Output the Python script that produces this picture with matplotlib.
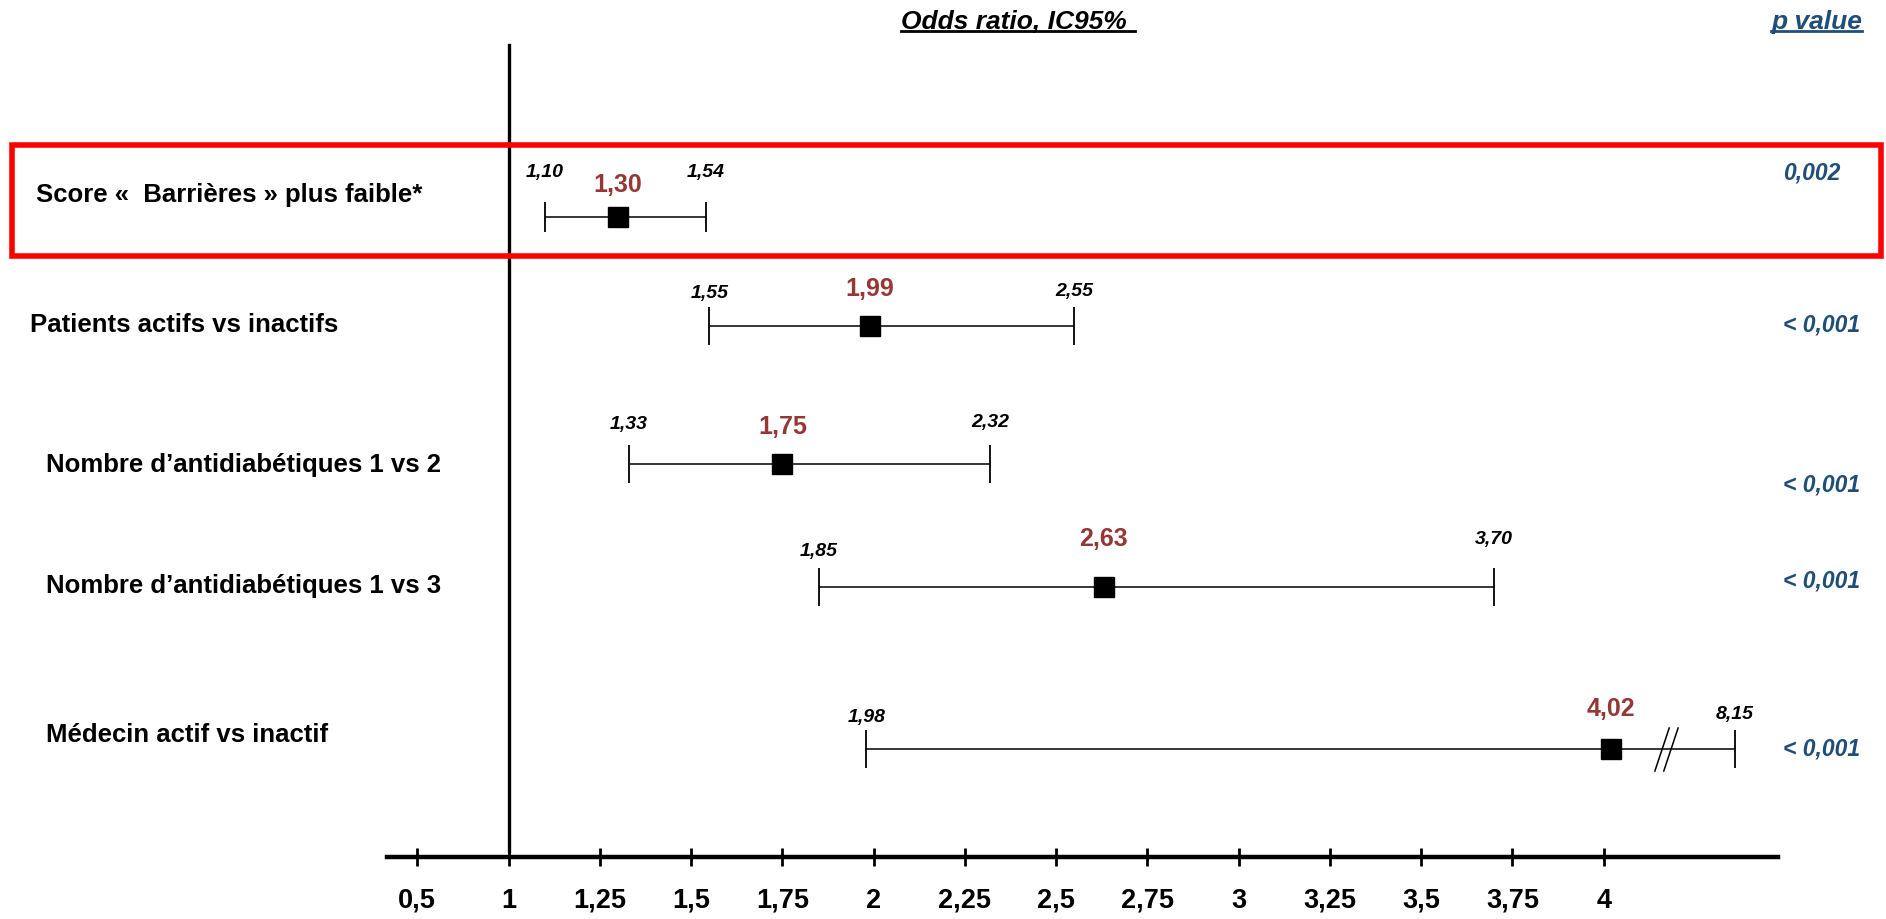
import numpy as np
import matplotlib
matplotlib.use("Agg")
import matplotlib.pyplot as plt
from matplotlib.path import Path
from matplotlib.patches import Rectangle
from matplotlib.lines import Line2D

plt.rcParams["font.family"] = ["Liberation Sans Narrow", "Liberation Sans", "DejaVu Sans"]

# --- données du modèle ---
variables = [
    "Score «  Barrières » plus faible*",
    "Patients actifs vs inactifs",
    "Nombre d\u2019antidiabétiques 1 vs 2",
    "Nombre d\u2019antidiabétiques 1 vs 3",
    "Médecin actif vs inactif",
]
odds_ratio = [1.30, 1.99, 1.75, 2.63, 4.02]
ic_bas = [1.10, 1.55, 1.33, 1.85, 1.98]
ic_haut = [1.54, 2.55, 2.32, 3.70, 8.15]
p_values = ["0,002", "< 0,001", "< 0,001", "< 0,001", "< 0,001"]
ticks = [0.5, 1, 1.25, 1.5, 1.75, 2, 2.25, 2.5, 2.75, 3, 3.25, 3.5, 3.75, 4]
tick_labels = ["0,5", "1", "1,25", "1,5", "1,75", "2", "2,25", "2,5", "2,75",
               "3", "3,25", "3,5", "3,75", "4"]

# --- mise en page (pixels, origine en haut) ---
W, H = 1886, 920
row_y = [218, 327, 465, 588, 750]
label_y = [195, 325, 465, 586, 735]
label_x = [36, 30, 46, 46, 46]
low_y = [173, 294, 425, 552, 718]
high_y = [173, 292, 423, 540, 715]
or_y = [185, 289, 427, 539, 709]
p_y = [173, 325, 485, 581, 749]

RED = "#953735"
BLUE = "#1F4E79"

# échelle : 0,5 comprimé à gauche, coupure après 4
BRK, K = 4.1, 0.064


def fwd(x):
    x = np.asarray(x, dtype=float)
    return np.where(x < 1, 1 - (1 - x) * 0.5, np.where(x > BRK, BRK + (x - BRK) * K, x))


def inv(p):
    p = np.asarray(p, dtype=float)
    return np.where(p < 1, 1 - (1 - p) * 2, np.where(p > BRK, BRK + (p - BRK) / K, p))


def fig_xy(px, py):
    return px / W, 1 - py / H


fig = plt.figure(figsize=(W / 100, H / 100), dpi=100)
ax = fig.add_axes([387 / W, 1 - 858 / H, (1778 - 387) / W, 858 / H])
ax.set_xscale("function", functions=(fwd, inv))
ax.set_xlim(0.334, 10.0)
ax.set_ylim(858, 0)

for s in ["top", "left", "right"]:
    ax.spines[s].set_visible(False)
ax.spines["bottom"].set_linewidth(3.2)
ax.set_yticks([])
ax.set_xticks(ticks)
ax.set_xticklabels(tick_labels, fontsize=19.5, fontweight="bold")
ax.tick_params(axis="x", direction="inout", length=13, width=2, pad=15)
ax.minorticks_off()

# ligne de référence OR = 1
ax.plot([1, 1], [46, 852], color="black", lw=2.4)

# --- intervalles de confiance ---
for i in range(len(variables)):
    y = row_y[i]
    ax.errorbar(odds_ratio[i], y,
                xerr=[[odds_ratio[i] - ic_bas[i]], [ic_haut[i] - odds_ratio[i]]],
                fmt="s", color="black", ms=15, ecolor="black", elinewidth=1.1,
                capsize=14 if i else 11, capthick=1.3)
    ax.text(ic_bas[i], low_y[i], f"{ic_bas[i]:.2f}".replace(".", ","),
            ha="center", va="center", fontsize=14, fontweight="bold", style="italic")
    ax.text(ic_haut[i], high_y[i], f"{ic_haut[i]:.2f}".replace(".", ","),
            ha="center", va="center", fontsize=14, fontweight="bold", style="italic")
    ax.text(odds_ratio[i], or_y[i], f"{odds_ratio[i]:.2f}".replace(".", ","),
            ha="center", va="center", fontsize=18, fontweight="bold", color=RED)

    # libellés et p
    fig.text(*fig_xy(label_x[i], label_y[i]), variables[i], ha="left", va="center",
             fontsize=18.5, fontweight="bold")
    fig.text(*fig_xy(1783, p_y[i]), p_values[i], ha="left", va="center",
             fontsize=16.5, fontweight="bold", style="italic", color=BLUE)

# double barre de coupure sur l'axe de la dernière ligne
brk = Path([(-1.6, -3), (0.4, 3), (-0.4, -3), (1.6, 3)],
           [Path.MOVETO, Path.LINETO, Path.MOVETO, Path.LINETO])
ax.plot([5.2], [row_y[-1]], marker=brk, ms=32, mec="black", mew=1.1, ls="none")

# --- titres soulignés ---
t1 = fig.text(*fig_xy(1018, 22), "Odds ratio, IC95% ", ha="center", va="center",
              fontsize=19, fontweight="bold", style="italic")
t2 = fig.text(*fig_xy(1862, 22), "p value", ha="right", va="center",
              fontsize=19, fontweight="bold", style="italic", color=BLUE)

# cadre rouge autour de la première variable
fig.add_artist(Rectangle(fig_xy(12, 257), (1881 - 12) / W, (257 - 146) / H,
                         transform=fig.transFigure, fill=False, ec="#FF0000", lw=4))

fig.canvas.draw()
r = fig.canvas.get_renderer()
for t, c in [(t1, "black"), (t2, BLUE)]:
    bb = t.get_window_extent(r).transformed(fig.transFigure.inverted())
    fig.add_artist(Line2D([bb.x0, bb.x1], [bb.y0 + 0.002, bb.y0 + 0.002],
                          transform=fig.transFigure, color=c, lw=2))

fig.savefig("out.png", dpi=100)
